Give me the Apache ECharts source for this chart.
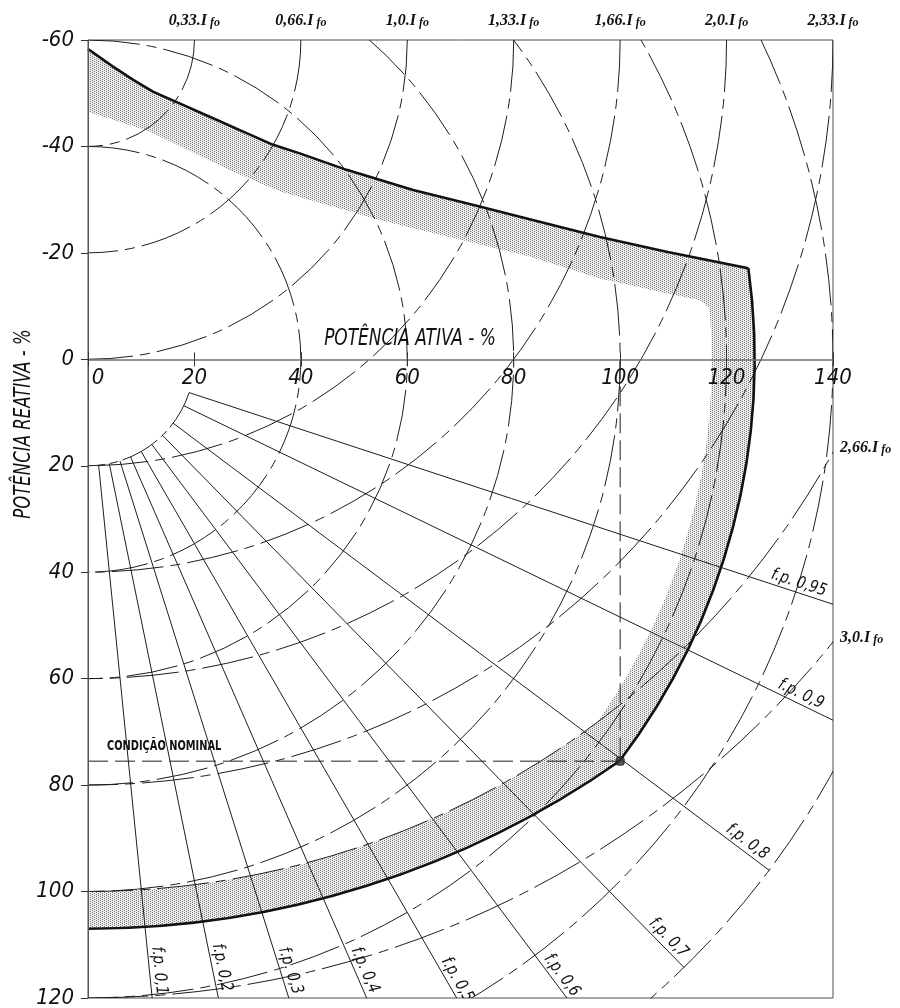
<!DOCTYPE html>
<html><head><meta charset="utf-8">
<script src="https://cdn.jsdelivr.net/npm/echarts@6/dist/echarts.min.js"></script>
<style>html,body{margin:0;padding:0;background:#fff}#c{width:900px;height:1008px}</style>
</head><body><div id="c"></div>
<script>
// ---------------- data ----------------
const fieldCircleRadii  = [20, 40, 60, 80, 100, 120, 140, 160, 180];          // field-current circles, centred on (0, fieldCenterQ)
const fieldCircleLabels = ['0,33', '0,66', '1,0', '1,33', '1,66', '2,0', '2,33', '2,66', '3,0'];
const fieldCenterQ = -60;
const armatureCircleRadii = [40, 60, 80, 100, 120, 140, 160];                 // circles centred on the origin
const pfInnerRadius = 20;
const pfOuterRadius = 160;
const powerFactors = [0.95, 0.9, 0.8, 0.7, 0.6, 0.5, 0.4, 0.3, 0.2, 0.1];
const pfLabels = ['f.p. 0,95', 'f.p. 0,9', 'f.p. 0,8', 'f.p. 0,7', 'f.p. 0,6', 'f.p. 0,5', 'f.p. 0,4', 'f.p. 0,3', 'f.p. 0,2', 'f.p. 0,1'];
const stabilityLimit = [[0,-58.3],[4.7,-55],[8.5,-52.5],[12.2,-50.3],[17.2,-48.1],[23.5,-45.3],[29.8,-42.5],[34.8,-40.3],[39.8,-38.7],[48.6,-35.6],[61.1,-31.8],[73.6,-28.7],[83,-26.3],[96.2,-23.0],[108.7,-20.2],[124.1,-17.1]];
const bandInnerEdge  = [[0,-46.5],[4.7,-45],[11.6,-42.8],[26,-35.8],[36,-31.6],[54.8,-26.2],[83,-19.3],[96.2,-15.2],[108.7,-12.4],[115,-11.1],[116.8,-9.6]];
const armatureLimitRadius = 125.2;
const bandArmatureRadius = 117.5;
const fieldLimitCenterQ = -67;
const fieldLimitRadius = 174;
const bandFieldRadius = 160;     // around (0, fieldCenterQ)
const nominalPoint = [100, 75.5];
const nominalLabel = 'CONDIÇÃO NOMINAL';

// ---------------- presentation ----------------
const pfLabelDistance = [140, 148, 153.5, 154, 146, 135.6, 126, 121, 117, 115.6];
const pfLabelOffset = 1.8;
const FONT_N = "'Liberation Sans Narrow','DejaVu Sans Condensed','Roboto Condensed','Liberation Sans',sans-serif";
const FONT_S = "'Liberation Serif','DejaVu Serif',serif";
const INK = '#1e1e1e';
const DASH = [52, 7, 10, 7];
const GRID = { left: 88, top: 40, width: 745, height: 958 };

function makeStipple() {
  const c = document.createElement('canvas'); c.width = 4; c.height = 4;
  const g = c.getContext('2d');
  g.fillStyle = '#ececec'; g.fillRect(0, 0, 4, 4);
  g.fillStyle = '#7a7a7a';
  [[0,0],[2,1],[0,2],[2,3]].forEach(([x, y]) => g.fillRect(x, y, 1, 1));
  return c;
}
const stipple = makeStipple();

// intersection of two circles whose centres lie on P = 0
function circleIntersection(c1, r1, c2, r2) {
  const Q = (r1*r1 - r2*r2 - c1*c1 + c2*c2) / (2 * (c2 - c1));
  const P = Math.sqrt(r1*r1 - (Q - c1) * (Q - c1));
  return [P, Q];
}

function outlinePath(api, closed) {
  const pt = p => api.coord(p);
  const sx = api.size([1, 0])[0], sy = api.size([0, 1])[1];
  const A = (r, to, sweep) => { const q = pt(to); return ' A ' + (r*sx) + ' ' + (r*sy) + ' 0 0 ' + sweep + ' ' + q[0] + ' ' + q[1]; };
  const corner = circleIntersection(0, armatureLimitRadius, fieldLimitCenterQ, fieldLimitRadius);
  let d = stabilityLimit.map((p, i) => { const q = pt(p); return (i ? ' L ' : 'M ') + q[0] + ' ' + q[1]; }).join('');
  d += A(armatureLimitRadius, corner, 1);
  d += A(fieldLimitRadius, [0, fieldLimitCenterQ + fieldLimitRadius], 1);
  if (closed) d += ' Z';
  return d;
}
function holePath(api) {
  const pt = p => api.coord(p);
  const sx = api.size([1, 0])[0], sy = api.size([0, 1])[1];
  const A = (r, to, sweep) => { const q = pt(to); return ' A ' + (r*sx) + ' ' + (r*sy) + ' 0 0 ' + sweep + ' ' + q[0] + ' ' + q[1]; };
  const innerCorner = circleIntersection(0, bandArmatureRadius, fieldCenterQ, bandFieldRadius);
  let q = pt(bandInnerEdge[0]);
  let d = ' M ' + q[0] + ' ' + q[1];
  q = pt([0, fieldCenterQ + bandFieldRadius]);
  d += ' L ' + q[0] + ' ' + q[1];
  d += A(bandFieldRadius, innerCorner, 0);
  d += A(bandArmatureRadius, bandInnerEdge[bandInnerEdge.length - 1], 0);
  bandInnerEdge.slice().reverse().forEach(p => { const r = pt(p); d += ' L ' + r[0] + ' ' + r[1]; });
  return d + ' Z';
}

const chart = echarts.init(document.getElementById('c'), null, { renderer: 'canvas' });

const tickLabelStyle = { color: '#111', fontSize: 22, fontStyle: 'italic', fontFamily: FONT_N };
const Q_MIN = -60, Q_MAX = 120;
// the P axis line sits on Q = 0: shift the bottom axis up by the distance from Q = 0 to the bottom edge
const pAxisOffset = -GRID.height * (Q_MAX - 0) / (Q_MAX - Q_MIN);

const option = {
  animation: false,
  backgroundColor: '#ffffff',
  grid: Object.assign({ show: true, borderColor: '#4d4d4d', borderWidth: 1,
          backgroundColor: 'transparent', containLabel: false, outerBoundsMode: 'none' }, GRID),
  xAxis: [
    { type: 'value', min: 0, max: 140, interval: 20, position: 'bottom', offset: pAxisOffset, z: 5,
      axisLine: { show: true, onZero: false, lineStyle: { color: '#707070', width: 1.6 } },
      axisTick: { show: true, length: 7, lineStyle: { color: '#333' } },
      axisLabel: Object.assign({ margin: 8, formatter: v => v === 0 ? '{z|0}' : String(v),
        rich: { z: Object.assign({ padding: [0, 0, 0, 20] }, tickLabelStyle) } }, tickLabelStyle),
      splitLine: { show: false } },
    { type: 'value', min: 0, max: 140, interval: 20, position: 'top', z: 5,
      axisLine: { show: false },
      axisTick: { show: true, length: 7, lineStyle: { color: '#333' } },
      axisLabel: { margin: 11, formatter: v => { const i = fieldCircleRadii.indexOf(v); return i >= 0 ? '{a|' + fieldCircleLabels[i] + '.I}{b| fo}' : ''; },
        rich: { a: { fontFamily: FONT_S, fontWeight: 'bold', fontStyle: 'italic', fontSize: 16, color: '#111' },
                b: { fontFamily: FONT_S, fontWeight: 'bold', fontStyle: 'italic', fontSize: 12, color: '#111', verticalAlign: 'bottom' } } },
      splitLine: { show: false } }
  ],
  yAxis: { type: 'value', inverse: true, min: Q_MIN, max: Q_MAX, interval: 20, z: 5,
    axisLine: { show: true, onZero: false, lineStyle: { color: '#555', width: 1 } },
    axisTick: { show: true, length: 7, lineStyle: { color: '#333' } },
    axisLabel: Object.assign({ margin: 14 }, tickLabelStyle),
    splitLine: { show: false } },
  graphic: [
    { type: 'text', x: 410, y: 339, z: 100, scaleX: 0.82,
      style: { text: 'POTÊNCIA ATIVA - %', font: 'italic 23px ' + FONT_N, fill: '#111', align: 'center', verticalAlign: 'middle', textAlign: 'center', textVerticalAlign: 'middle' } },
    { type: 'text', x: 24, y: 424, rotation: Math.PI / 2, z: 100, scaleX: 0.8,
      style: { text: 'POTÊNCIA REATIVA - %', font: 'italic 23px ' + FONT_N, fill: '#111', align: 'center', verticalAlign: 'middle', textAlign: 'center', textVerticalAlign: 'middle' } }
  ],
  series: [
    { type: 'custom', name: 'band', z: 1, silent: true, data: [[0, 0]],
      renderItem: (params, api) => ({ type: 'path', shape: { pathData: outlinePath(api, true) + holePath(api) },
        style: { fill: { image: stipple, repeat: 'repeat' }, stroke: 'none' } }) },
    { type: 'custom', name: 'field circles', z: 3, silent: true, clip: true,
      data: fieldCircleRadii.map(r => [r, 0]),
      renderItem: (params, api) => {
        const c = api.coord([0, fieldCenterQ]);
        const r = api.size([api.value(0), 0])[0];
        return { type: 'arc', shape: { cx: c[0], cy: c[1], r: r, startAngle: 0, endAngle: Math.PI / 2, clockwise: true },
          style: { fill: 'none', stroke: INK, lineWidth: 1, lineDash: DASH } };
      } },
    { type: 'custom', name: 'armature circles', z: 3, silent: true, clip: true,
      data: armatureCircleRadii.map(r => [r, 0]),
      renderItem: (params, api) => {
        const c = api.coord([0, 0]);
        const r = api.size([api.value(0), 0])[0];
        return { type: 'arc', shape: { cx: c[0], cy: c[1], r: r, startAngle: -Math.PI / 2, endAngle: Math.PI / 2, clockwise: true },
          style: { fill: 'none', stroke: INK, lineWidth: 1, lineDash: DASH } };
      } },
    { type: 'custom', name: 'pf arc', z: 3, silent: true, clip: true, data: [[pfInnerRadius, 0]],
      renderItem: (params, api) => {
        const c = api.coord([0, 0]);
        const r = api.size([api.value(0), 0])[0];
        return { type: 'arc', shape: { cx: c[0], cy: c[1], r: r, startAngle: Math.acos(powerFactors[0]), endAngle: Math.PI / 2, clockwise: true },
          style: { fill: 'none', stroke: INK, lineWidth: 1, lineDash: [40, 5, 8, 5] } };
      } },
    { type: 'custom', name: 'pf lines', z: 3, silent: true, clip: true,
      data: powerFactors.map(pf => [pf, 0]),
      renderItem: (params, api) => {
        const i = params.dataIndex;
        const th = Math.acos(api.value(0));
        const c = Math.cos(th), s = Math.sin(th);
        const p0 = api.coord([pfInnerRadius * c, pfInnerRadius * s]);
        const p1 = api.coord([pfOuterRadius * c, pfOuterRadius * s]);
        const L = pfLabelDistance[i];
        const lp = api.coord([L * c + pfLabelOffset * s, L * s - pfLabelOffset * c]);
        return { type: 'group', children: [
          { type: 'line', shape: { x1: p0[0], y1: p0[1], x2: p1[0], y2: p1[1] }, style: { stroke: INK, lineWidth: 1 } },
          { type: 'text', x: lp[0], y: lp[1], rotation: -th, scaleX: 0.9,
            style: { text: pfLabels[i], font: 'italic 17px ' + FONT_N, fill: '#111', align: 'center', verticalAlign: 'middle' } }
        ] };
      } },
    { type: 'line', name: 'nominal h', z: 3, silent: true, showSymbol: false, symbol: 'none',
      data: [[0, nominalPoint[1]], nominalPoint],
      lineStyle: { color: INK, width: 1, type: [20, 7] } },
    { type: 'line', name: 'nominal v', z: 3, silent: true, showSymbol: false, symbol: 'none',
      data: [[nominalPoint[0], 0], nominalPoint],
      lineStyle: { color: INK, width: 1, type: [20, 7] } },
    { type: 'custom', name: 'capability limit', z: 4, silent: true, data: [[0, 0]],
      renderItem: (params, api) => ({ type: 'path', shape: { pathData: outlinePath(api, false) },
        style: { fill: 'none', stroke: '#111', lineWidth: 2.6, lineJoin: 'miter' } }) },
    { type: 'scatter', name: 'nominal', z: 5, silent: true, data: [nominalPoint],
      symbol: 'roundRect', symbolSize: 8, itemStyle: { color: '#333', borderColor: '#111', borderWidth: 1 } },
    { type: 'custom', name: 'nominal label', z: 5, silent: true, data: [[0, nominalPoint[1]]],
      renderItem: (params, api) => {
        const p = api.coord([api.value(0), api.value(1)]);
        return { type: 'text', x: p[0] + 19, y: p[1] - 15, scaleX: 0.78,
          style: { text: nominalLabel, font: 'bold 14px ' + FONT_N, fill: '#111', align: 'left', verticalAlign: 'middle' } };
      } },
    { type: 'custom', name: 'right labels', z: 5, silent: true,
      data: fieldCircleRadii.filter(r => r > 140).map(r => [r, 0]),
      renderItem: (params, api) => {
        const r = api.value(0);
        const Q = fieldCenterQ + Math.sqrt(r * r - 140 * 140);
        const p = api.coord([140, Q]);
        const lab = fieldCircleLabels[fieldCircleRadii.indexOf(r)];
        return { type: 'text', x: p[0] + 7, y: p[1] - 4,
          style: { text: '{a|' + lab + '.I}{b| fo}', align: 'left', verticalAlign: 'middle',
            rich: { a: { fontFamily: FONT_S, fontWeight: 'bold', fontStyle: 'italic', fontSize: 16, fill: '#111', color: '#111' },
                    b: { fontFamily: FONT_S, fontWeight: 'bold', fontStyle: 'italic', fontSize: 12, fill: '#111', color: '#111', verticalAlign: 'bottom' } } } };
      } }
  ]
};
chart.setOption(option);
</script>
</body></html>
